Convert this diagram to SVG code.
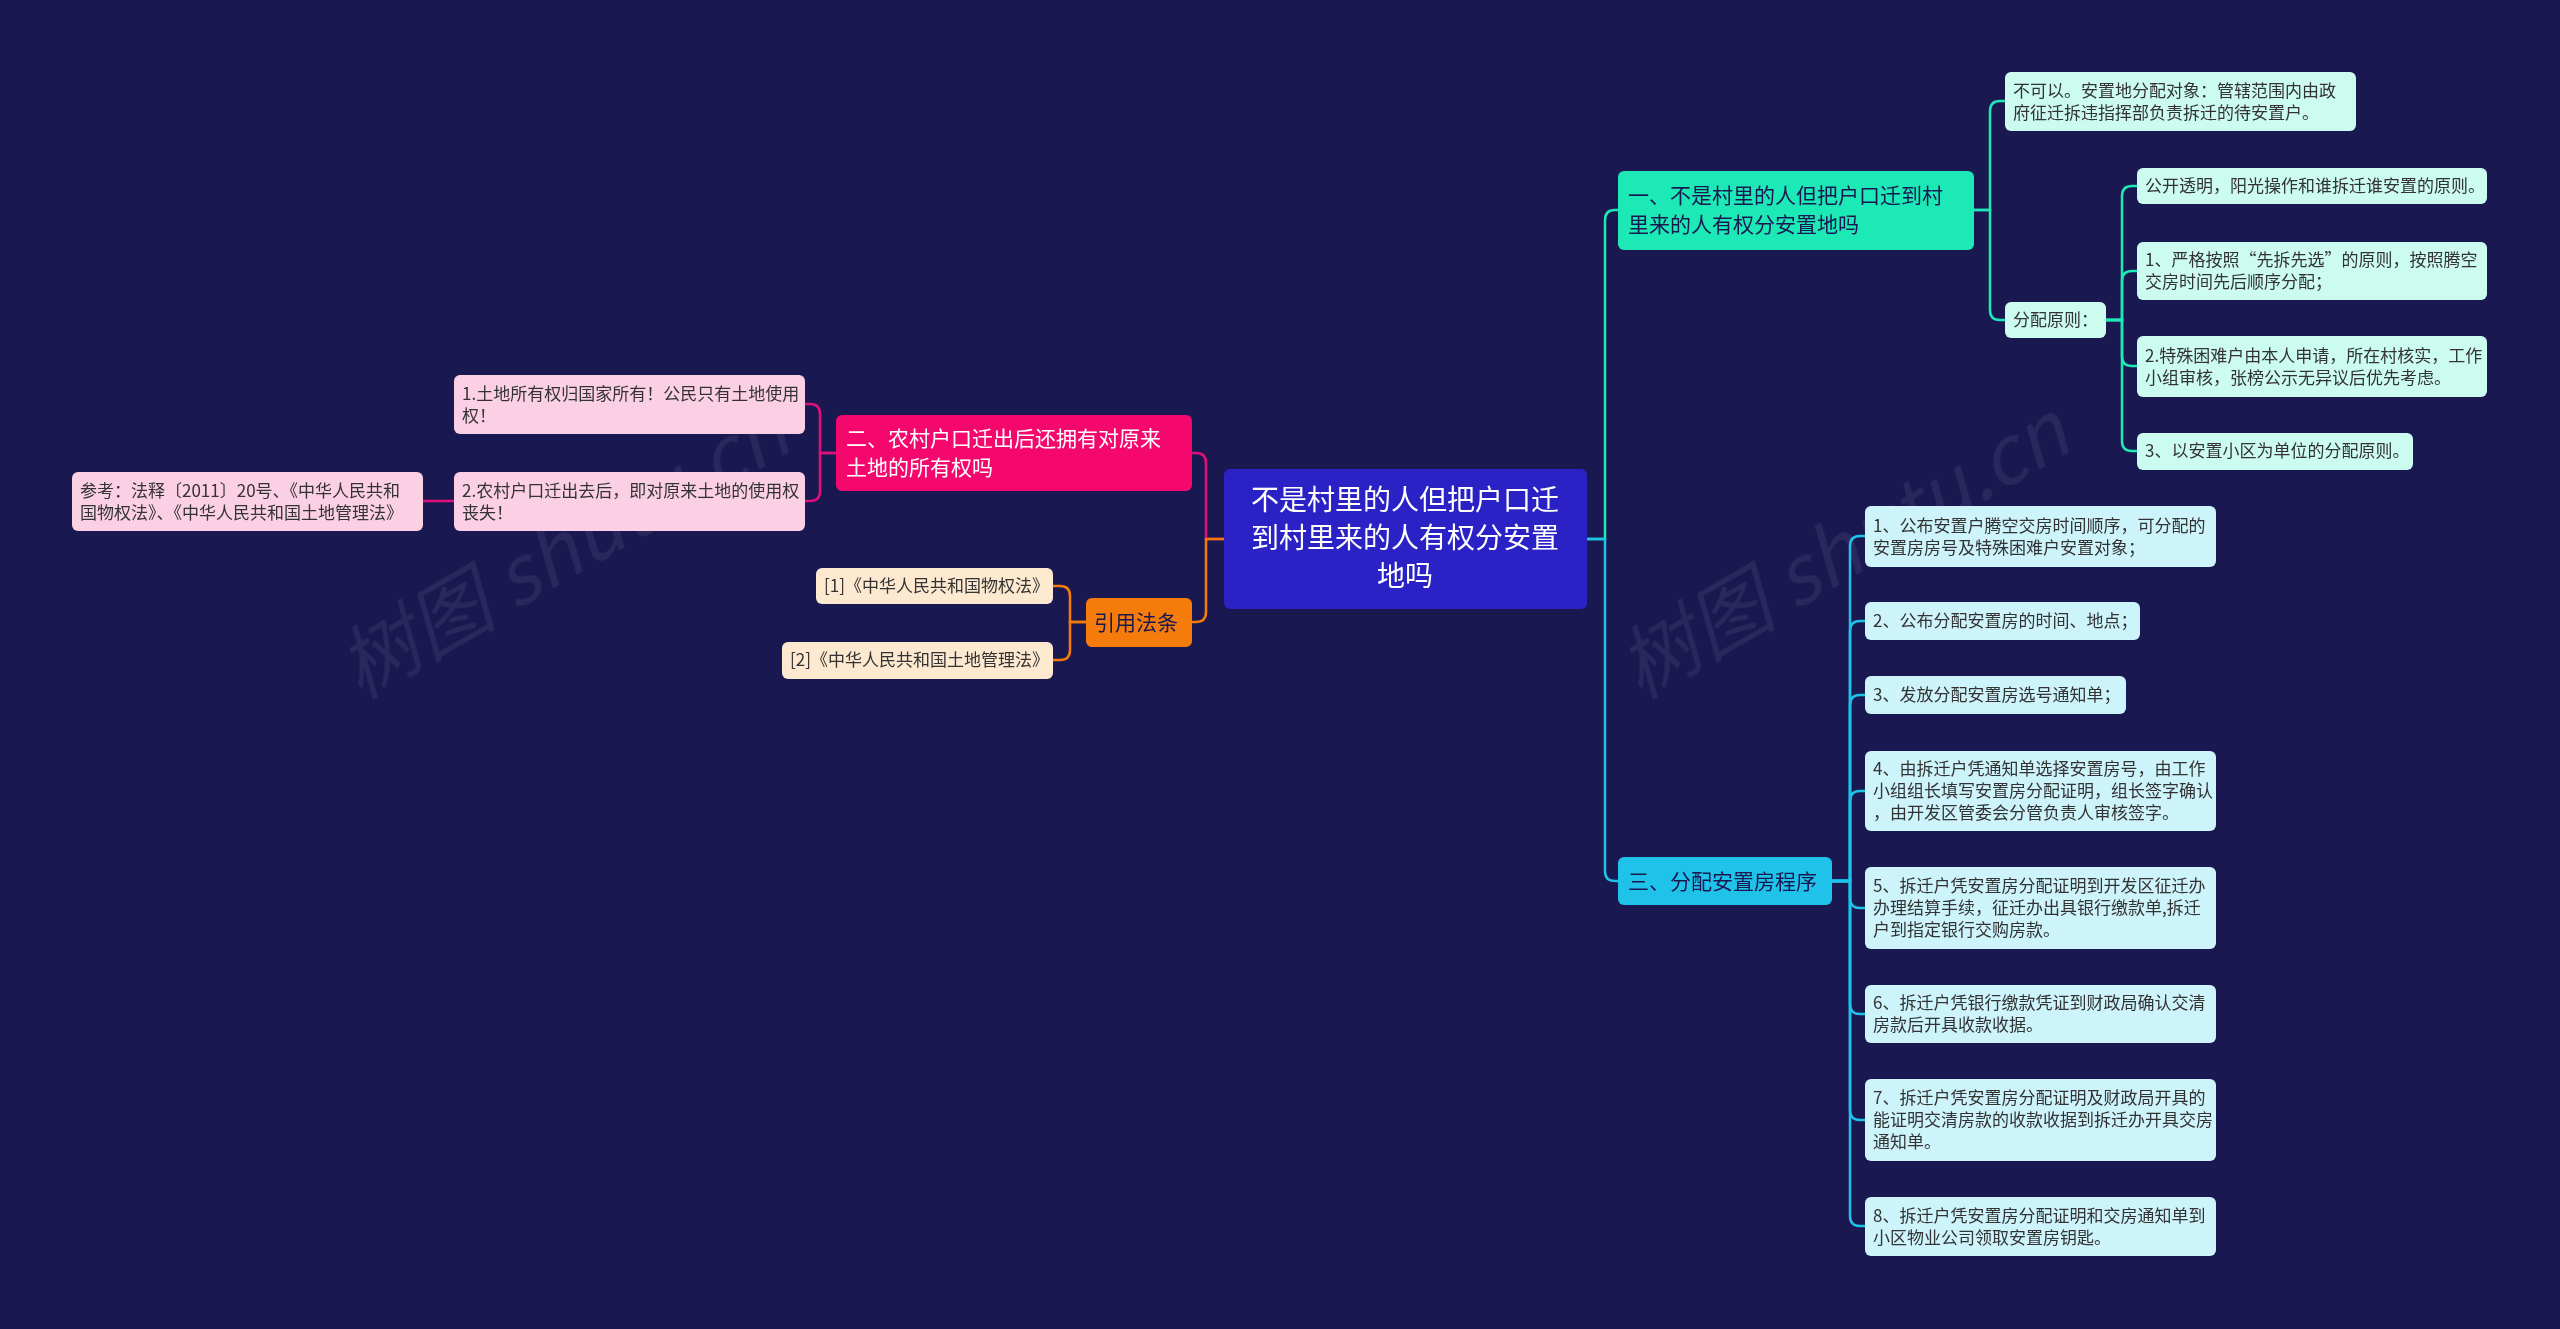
<svg xmlns="http://www.w3.org/2000/svg" width="2560" height="1329" viewBox="0 0 2560 1329">
<style>
text{font-family:"Noto Sans CJK SC","Noto Sans",sans-serif}
.lf{font-size:17px;fill:#333}
.br{font-size:21px}
.c{fill:none;stroke-width:2.5}
</style>
<rect width="2560" height="1329" fill="#1a1850"/>
<g opacity="0.07" fill="#fff" font-size="80" font-style="italic">
<text transform="translate(360,700) rotate(-30)" style="font-size:80px">树图 shutu.cn</text>
<text transform="translate(1640,700) rotate(-30)" style="font-size:80px">树图 shutu.cn</text>
</g>
<g id="connectors">
<path class="c" stroke="#1de9b6" d="M1587,539 H1605 V220 Q1605,210 1615,210 H1618"/>
<path class="c" stroke="#1fc2e8" d="M1587,539 H1605 V871 Q1605,881 1615,881 H1618"/>
<path class="c" stroke="#1de9b6" d="M1974,210 H1990 V111 Q1990,101 2000,101 H2005"/>
<path class="c" stroke="#1de9b6" d="M1974,210 H1990 V310 Q1990,320 2000,320 H2005"/>
<path class="c" stroke="#1de9b6" d="M2106,320 H2122 V196 Q2122,186 2132,186 H2137"/>
<path class="c" stroke="#1de9b6" d="M2106,320 H2122 V281 Q2122,271 2132,271 H2137"/>
<path class="c" stroke="#1de9b6" d="M2106,320 H2122 V356 Q2122,366 2132,366 H2137"/>
<path class="c" stroke="#1de9b6" d="M2106,320 H2122 V441 Q2122,451 2132,451 H2137"/>
<g stroke="#1fc2e8">
<path class="c" d="M1832,881 H1850 V546 Q1850,536 1860,536 H1865"/>
<path class="c" d="M1832,881 H1850 V631 Q1850,621 1860,621 H1865"/>
<path class="c" d="M1832,881 H1850 V705 Q1850,695 1860,695 H1865"/>
<path class="c" d="M1832,881 H1850 V801 Q1850,791 1860,791 H1865"/>
<path class="c" d="M1832,881 H1850 V898 Q1850,908 1860,908 H1865"/>
<path class="c" d="M1832,881 H1850 V1004 Q1850,1014 1860,1014 H1865"/>
<path class="c" d="M1832,881 H1850 V1110 Q1850,1120 1860,1120 H1865"/>
<path class="c" d="M1832,881 H1850 V1216 Q1850,1226 1860,1226 H1865"/>
</g>
<path class="c" stroke="#e0107a" d="M1224,539 H1206 V463 Q1206,453 1196,453 H1192"/>
<path class="c" stroke="#f57c0a" d="M1224,539 H1206 V612 Q1206,622 1196,622 H1192"/>
<path class="c" stroke="#e0107a" d="M836,453 H820 V414 Q820,404 810,404 H805"/>
<path class="c" stroke="#e0107a" d="M836,453 H820 V491 Q820,501 810,501 H805"/>
<path class="c" stroke="#e0107a" d="M454,501 H423"/>
<path class="c" stroke="#f57c0a" d="M1086,622 H1070 V596 Q1070,586 1060,586 H1053"/>
<path class="c" stroke="#f57c0a" d="M1086,622 H1070 V650 Q1070,660 1060,660 H1053"/>
</g>
<g id="root"><rect x="1224" y="469" width="363" height="140" rx="6" fill="#2b22c6"/>
<text fill="#fff" font-size="28" text-anchor="middle" style="font-size:28px"><tspan x="1405" y="510">不是村里的人但把户口迁</tspan><tspan x="1405" y="548">到村里来的人有权分安置</tspan><tspan x="1405" y="586">地吗</tspan></text></g>
<g id="b1"><rect x="1618" y="171" width="356" height="79" rx="6" fill="#1de9b6"/>
<text class="br" fill="#1a1850"><tspan x="1628" y="203">一、不是村里的人但把户口迁到村</tspan><tspan x="1628" y="232">里来的人有权分安置地吗</tspan></text></g>
<g id="n11"><rect x="2005" y="72" width="351" height="59" rx="6" fill="#ccfbef"/>
<text class="lf"><tspan x="2013" y="97">不可以。安置地分配对象：管辖范围内由政</tspan><tspan x="2013" y="119">府征迁拆违指挥部负责拆迁的待安置户。</tspan></text></g>
<g id="n12"><rect x="2005" y="302" width="101" height="36" rx="6" fill="#ccfbef"/>
<text class="lf" x="2013" y="326">分配原则：</text></g>
<g id="n121"><rect x="2137" y="168" width="350" height="36" rx="6" fill="#ccfbef"/>
<text class="lf" x="2145" y="192">公开透明，阳光操作和谁拆迁谁安置的原则。</text></g>
<g id="n122"><rect x="2137" y="242" width="350" height="58" rx="6" fill="#ccfbef"/>
<text class="lf"><tspan x="2145" y="266">1、严格按照“先拆先选”的原则，按照腾空</tspan><tspan x="2145" y="288">交房时间先后顺序分配；</tspan></text></g>
<g id="n123"><rect x="2137" y="336" width="350" height="61" rx="6" fill="#ccfbef"/>
<text class="lf"><tspan x="2145" y="362">2.特殊困难户由本人申请，所在村核实，工作</tspan><tspan x="2145" y="384">小组审核，张榜公示无异议后优先考虑。</tspan></text></g>
<g id="n124"><rect x="2137" y="433" width="276" height="37" rx="6" fill="#ccfbef"/>
<text class="lf" x="2145" y="457">3、以安置小区为单位的分配原则。</text></g>
<g id="b3"><rect x="1618" y="857" width="214" height="48" rx="6" fill="#1fc2e8"/>
<text class="br" fill="#1a1850" x="1628" y="889">三、分配安置房程序</text></g>
<g class="lf">
<g id="n31"><rect x="1865" y="506" width="351" height="61" rx="6" fill="#cdf3fb"/><text class="lf"><tspan x="1873" y="532">1、公布安置户腾空交房时间顺序，可分配的</tspan><tspan x="1873" y="554">安置房房号及特殊困难户安置对象；</tspan></text></g>
<g id="n32"><rect x="1865" y="602" width="275" height="38" rx="6" fill="#cdf3fb"/><text class="lf" x="1873" y="627">2、公布分配安置房的时间、地点；</text></g>
<g id="n33"><rect x="1865" y="676" width="261" height="38" rx="6" fill="#cdf3fb"/><text class="lf" x="1873" y="701">3、发放分配安置房选号通知单；</text></g>
<g id="n34"><rect x="1865" y="751" width="351" height="80" rx="6" fill="#cdf3fb"/><text class="lf"><tspan x="1873" y="775">4、由拆迁户凭通知单选择安置房号，由工作</tspan><tspan x="1873" y="797">小组组长填写安置房分配证明，组长签字确认</tspan><tspan x="1873" y="819">，由开发区管委会分管负责人审核签字。</tspan></text></g>
<g id="n35"><rect x="1865" y="867" width="351" height="82" rx="6" fill="#cdf3fb"/><text class="lf"><tspan x="1873" y="892">5、拆迁户凭安置房分配证明到开发区征迁办</tspan><tspan x="1873" y="914">办理结算手续，征迁办出具银行缴款单,拆迁</tspan><tspan x="1873" y="936">户到指定银行交购房款。</tspan></text></g>
<g id="n36"><rect x="1865" y="985" width="351" height="58" rx="6" fill="#cdf3fb"/><text class="lf"><tspan x="1873" y="1009">6、拆迁户凭银行缴款凭证到财政局确认交清</tspan><tspan x="1873" y="1031">房款后开具收款收据。</tspan></text></g>
<g id="n37"><rect x="1865" y="1079" width="351" height="82" rx="6" fill="#cdf3fb"/><text class="lf"><tspan x="1873" y="1104">7、拆迁户凭安置房分配证明及财政局开具的</tspan><tspan x="1873" y="1126">能证明交清房款的收款收据到拆迁办开具交房</tspan><tspan x="1873" y="1148">通知单。</tspan></text></g>
<g id="n38"><rect x="1865" y="1197" width="351" height="59" rx="6" fill="#cdf3fb"/><text class="lf"><tspan x="1873" y="1222">8、拆迁户凭安置房分配证明和交房通知单到</tspan><tspan x="1873" y="1244">小区物业公司领取安置房钥匙。</tspan></text></g>
</g>
<g id="b2"><rect x="836" y="415" width="356" height="76" rx="6" fill="#f5086e"/>
<text class="br" fill="#fff"><tspan x="846" y="446">二、农村户口迁出后还拥有对原来</tspan><tspan x="846" y="475">土地的所有权吗</tspan></text></g>
<g id="n21"><rect x="454" y="375" width="351" height="59" rx="6" fill="#fcd0e4"/>
<text class="lf"><tspan x="462" y="400">1.土地所有权归国家所有！公民只有土地使用</tspan><tspan x="462" y="422">权！</tspan></text></g>
<g id="n22"><rect x="454" y="472" width="351" height="59" rx="6" fill="#fcd0e4"/>
<text class="lf"><tspan x="462" y="497">2.农村户口迁出去后，即对原来土地的使用权</tspan><tspan x="462" y="519">丧失！</tspan></text></g>
<g id="n221"><rect x="72" y="472" width="351" height="59" rx="6" fill="#fcd0e4"/>
<text class="lf"><tspan x="80" y="497">参考：法释〔2011〕20号、《中华人民共和</tspan><tspan x="80" y="519">国物权法》、《中华人民共和国土地管理法》</tspan></text></g>
<g id="b4"><rect x="1086" y="598" width="106" height="49" rx="6" fill="#f57c0a"/>
<text class="br" fill="#1a1850" x="1094" y="630">引用法条</text></g>
<g id="n41"><rect x="816" y="568" width="237" height="36" rx="6" fill="#fde8d0"/>
<text class="lf" x="824" y="592">[1]《中华人民共和国物权法》</text></g>
<g id="n42"><rect x="782" y="642" width="271" height="37" rx="6" fill="#fde8d0"/>
<text class="lf" x="790" y="666">[2]《中华人民共和国土地管理法》</text></g>
</svg>
